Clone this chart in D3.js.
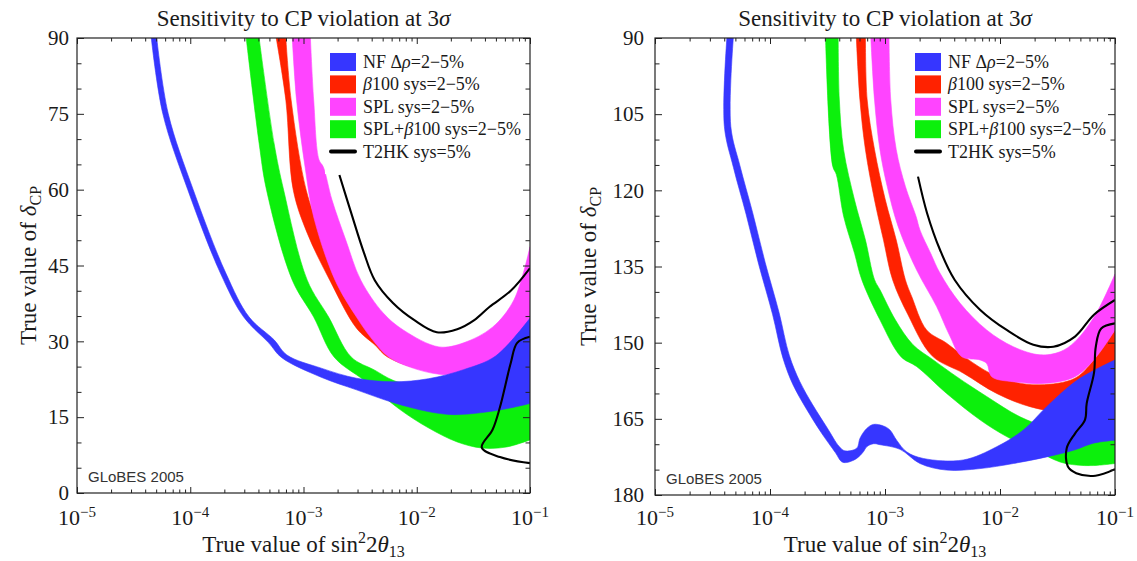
<!DOCTYPE html>
<html>
<head>
<meta charset="utf-8">
<script src="https://cdn.jsdelivr.net/npm/d3@7"></script>
<style>
  body { margin: 0; background: #fff; }
  svg { display: block; }
</style>
</head>
<body>
<svg id="chart" width="1137" height="561"></svg>
<script>
// every point is [log10 of true sin^2 2theta13, true delta_CP in degrees]
// each band is given by its two edges

// left panel, delta_CP from 0 to 90
const leftNFOuter = [[-4.344, 90], [-4.242, 75], [-4.022, 60], [-3.734, 43.5], [-3.528, 34.8], [-3.307, 29.7], [-3.194, 26.8], [-2.844, 22.9], [-2.532, 20.4], [-2.21, 17.9], [-1.898, 16.1], [-1.681, 15.5], [-1.426, 15.9], [-1.2, 16.7], [-1, 17.7]];
const leftNFInner = [[-4.296, 90], [-4.194, 75], [-3.974, 60], [-3.686, 43.5], [-3.48, 34.8], [-3.26, 30.3], [-3.147, 27.3], [-2.844, 24.7], [-2.532, 22.7], [-2.21, 22.0], [-1.898, 22.6], [-1.586, 24.4], [-1.303, 27.1], [-1, 34.6]];
const leftB100Outer = [[-3.241, 90], [-3.156, 77.7], [-3.09, 59.9], [-2.967, 51.4], [-2.768, 42.1], [-2.532, 32.6], [-2.371, 29.3], [-2.258, 26.9], [-1.898, 24.3], [-1.426, 25.3], [-1, 33.2]];
const leftB100Inner = [[-3.156, 90], [-3.109, 77.7], [-2.976, 59.9], [-2.844, 51.4], [-2.655, 42.1], [-2.418, 32.6], [-2.182, 29.3], [-1.993, 26.9], [-1.709, 26.3], [-1, 34.2]];
const leftSPLOuter = [[-3.099, 90], [-3.061, 77.7], [-2.986, 64.5], [-2.91, 54.6], [-2.721, 42.1], [-2.532, 34.8], [-2.39, 30.3], [-2.248, 26.9], [-2.059, 24.9], [-1.804, 23.5], [-1.586, 23.7], [-1.303, 26.3], [-1.113, 30.9], [-1, 34.6]];
const leftSPLInner = [[-2.939, 90], [-2.91, 77.7], [-2.863, 65.9], [-2.825, 64.5], [-2.749, 58.0], [-2.626, 50.0], [-2.494, 42.1], [-2.296, 35.6], [-2.116, 32.2], [-1.804, 28.9], [-1.586, 29.7], [-1.331, 32.8], [-1.142, 38.2], [-1, 48.7]];
const leftComboOuter = [[-3.506, 90], [-3.392, 69.2], [-3.326, 59.9], [-3.099, 42.1], [-2.91, 34.8], [-2.73, 26.9], [-2.466, 22.3], [-2.154, 16.6], [-1.898, 12.9], [-1.643, 10.1], [-1.426, 8.9], [-1.208, 9.1], [-1, 10.5]];
const leftComboInner = [[-3.392, 90], [-3.26, 69.2], [-3.175, 59.9], [-2.967, 42.1], [-2.778, 34.8], [-2.579, 26.9], [-2.371, 24.3], [-2.21, 22.3], [-1.898, 20.4], [-1.586, 19.0], [-1, 18.4]];
const leftT2HKUpper = [[-2.683, 62.9], [-2.579, 55.4], [-2.466, 47.5], [-2.371, 42.1], [-2.21, 37.6], [-2.021, 34.2], [-1.823, 31.8], [-1.643, 32.4], [-1.492, 34.2], [-1.359, 36.8], [-1.17, 40.0], [-1, 44.5]];
const leftT2HKLower = [[-1, 30.9], [-1.113, 29.7], [-1.17, 25.7], [-1.265, 17.0], [-1.331, 12.5], [-1.426, 9.0], [-1.265, 7.1], [-1, 5.9]];

// right panel, delta_CP from 90 to 180
const rightNFOuter = [[-4.375, 90], [-4.397, 107.4], [-4.318, 115.5], [-4.208, 124.7], [-4.098, 134.6], [-3.978, 144.4], [-3.888, 153.0], [-3.80, 158.3], [-3.69, 162.8], [-3.558, 167.6], [-3.43, 171.7], [-3.377, 173.45], [-3.333, 173.6], [-3.246, 172.8], [-3.188, 171.5], [-3.159, 170.5], [-3.1, 169.9], [-3.043, 170.1], [-2.87, 171.0], [-2.696, 173.8], [-2.464, 175.1], [-2.174, 174.8], [-1.884, 173.8], [-1.594, 172.5], [-1.348, 171.1], [-1.189, 169.8], [-1, 169.2]];
const rightNFInner = [[-4.319, 90], [-4.341, 107.4], [-4.262, 115.1], [-4.152, 124.3], [-4.042, 134.2], [-3.922, 144.0], [-3.832, 152.5], [-3.74, 157.7], [-3.63, 162.2], [-3.502, 166.8], [-3.4, 170.4], [-3.35, 171.3], [-3.246, 170.8], [-3.217, 168.8], [-3.159, 166.9], [-3.101, 166.1], [-3.014, 166.4], [-2.957, 167.2], [-2.899, 169.2], [-2.812, 171.5], [-2.667, 172.8], [-2.319, 173.1], [-2.029, 170.5], [-1.797, 167.2], [-1.594, 162.6], [-1.348, 157.7], [-1.17, 155.3], [-1, 153.4]];
const rightB100Outer = [[-3.249, 90], [-3.218, 102.2], [-3.17, 112.0], [-3.091, 121.9], [-3.013, 129.8], [-2.934, 137.6], [-2.8, 144.5], [-2.59, 152.6], [-2.319, 156.0], [-2.029, 160.0], [-1.739, 162.6], [-1.507, 163.3], [-1.348, 161.3], [-1.17, 158.5], [-1, 154.5]];
const rightB100Inner = [[-3.17, 90], [-3.155, 102.2], [-3.091, 112.0], [-2.997, 121.9], [-2.902, 129.8], [-2.823, 137.6], [-2.768, 140.9], [-2.638, 147.5], [-2.464, 150.1], [-2.29, 153.1], [-2.087, 156.0], [-1.884, 157.7], [-1.652, 158.3], [-1.348, 157.0], [-1.17, 153.0], [-1, 147.5]];
const rightSPLOuter = [[-3.123, 90], [-3.091, 102.2], [-3.044, 112.0], [-2.981, 119.2], [-2.886, 127.1], [-2.725, 135.7], [-2.551, 142.9], [-2.44, 148.5], [-2.333, 152.75], [-2.174, 153.4], [-2.116, 154.1], [-2.072, 156.7], [-1.884, 157.7], [-1.594, 158.0], [-1.348, 156.7], [-1.17, 153.0], [-1, 147.5]];
const rightSPLInner = [[-2.965, 90], [-2.95, 102.2], [-2.902, 112.0], [-2.823, 119.2], [-2.729, 125.2], [-2.696, 127.8], [-2.603, 132.4], [-2.522, 136.3], [-2.348, 142.2], [-2.116, 147.5], [-1.884, 150.8], [-1.652, 152.4], [-1.478, 151.8], [-1.348, 149.8], [-1.17, 144.5], [-1, 136.5]];
const rightComboOuter = [[-3.517, 90], [-3.454, 115.3], [-3.423, 116.9], [-3.36, 125.1], [-3.265, 132.4], [-3.202, 137.6], [-3.044, 145.5], [-2.86, 152.8], [-2.725, 154.7], [-2.464, 160.0], [-2.174, 165.2], [-1.942, 168.5], [-1.71, 171.0], [-1.478, 173.5], [-1.334, 174.1], [-1.189, 174.2], [-1, 173.8]];
const rightComboInner = [[-3.407, 90], [-3.397, 102.2], [-3.36, 112.0], [-3.265, 121.9], [-3.17, 129.8], [-3.091, 137.6], [-3.0435, 139.6], [-2.91, 145.5], [-2.757, 150.4], [-2.58, 153.4], [-2.377, 156.7], [-2.116, 160.6], [-1.826, 164.6], [-1.594, 166.5], [-1.3, 167.0], [-1, 166.5]];
const rightT2HKUpper = [[-2.713, 117.3], [-2.634, 124.5], [-2.522, 131.7], [-2.395, 137.6], [-2.174, 143.5], [-1.942, 147.5], [-1.71, 150.4], [-1.536, 150.8], [-1.348, 148.8], [-1.183, 144.5], [-1, 141.6]];
const rightT2HKLower = [[-1, 146.2], [-1.12, 147.2], [-1.167, 150.8], [-1.183, 156.0], [-1.246, 161.95], [-1.261, 165.2], [-1.348, 167.9], [-1.42, 170.8], [-1.41, 174.4], [-1.337, 175.7], [-1.17, 176.2], [-1, 174.9]];

const xTickExponents = [-5, -4, -3, -2, -1];
const leftYTicks = [0, 15, 30, 45, 60, 75, 90];
const rightYTicks = [90, 105, 120, 135, 150, 165, 180];

const seriesColors = ["#3636ff", "#ff2200", "#ff44ff", "#0cf00c", "#000000"];
const legendLabels = [
  [["NF Δ", false], ["ρ", true], ["=2−5%", false]],
  [["β", true], ["100 sys=2−5%", false]],
  [["SPL sys=2−5%", false]],
  [["SPL+", false], ["β", true], ["100 sys=2−5%", false]],
  [["T2HK sys=5%", false]]
];

const SERIF = "'Liberation Serif', 'Times New Roman', serif";
const svg = d3.select("#chart");

const panels = [
  {
    id: "left", x0: 77, x1: 530, y0: 38, y1: 493, yDomain: [0, 90], yTicks: leftYTicks,
    labelPad: 8, titleX: 36,
    bands: [
      [leftComboOuter, leftComboInner, 3],
      [leftB100Outer, leftB100Inner, 1],
      [leftSPLOuter, leftSPLInner, 2],
      [leftNFOuter, leftNFInner, 0]
    ],
    lines: [leftT2HKUpper, leftT2HKLower]
  },
  {
    id: "right", x0: 655, x1: 1115, y0: 38, y1: 495, yDomain: [90, 180], yTicks: rightYTicks,
    labelPad: 11, titleX: 596,
    bands: [
      [rightComboOuter, rightComboInner, 3],
      [rightB100Outer, rightB100Inner, 1],
      [rightSPLOuter, rightSPLInner, 2],
      [rightNFOuter, rightNFInner, 0]
    ],
    lines: [rightT2HKUpper, rightT2HKLower]
  }
];

const getPanelScales = p => {
  const xScale = d3.scaleLog().domain([1e-5, 1e-1]).range([p.x0, p.x1]);
  const yScale = d3.scaleLinear().domain(p.yDomain).range(
    p.id === "left" ? [p.y1, p.y0] : [p.y0, p.y1]
  );
  return { xScale, yScale };
};

const drawBands = (p, scales) => {
  const { xScale, yScale } = scales;
  svg.append("clipPath").attr("id", `clip-${p.id}`)
    .append("rect")
    .attr("x", p.x0).attr("y", p.y0)
    .attr("width", p.x1 - p.x0).attr("height", p.y1 - p.y0);

  const edge = d3.line()
    .x(d => xScale(Math.pow(10, d[0])))
    .y(d => yScale(d[1]))
    .curve(d3.curveCatmullRom.alpha(0.5));
  const bandPath = (outer, inner) =>
    edge(outer) + edge(inner.slice().reverse()).replace("M", "L") + "Z";

  const plot = svg.append("g").attr("clip-path", `url(#clip-${p.id})`);
  plot.selectAll("path.band")
    .data(p.bands)
    .join("path")
    .attr("class", "band")
    .attr("d", d => bandPath(d[0], d[1]))
    .attr("fill", d => seriesColors[d[2]])
    .attr("stroke", d => seriesColors[d[2]])
    .attr("stroke-width", 0.6);

  plot.selectAll("path.t2hk")
    .data(p.lines)
    .join("path")
    .attr("class", "t2hk")
    .attr("d", d => edge(d))
    .attr("fill", "none")
    .attr("stroke", "#000")
    .attr("stroke-width", 2.1)
    .attr("stroke-linejoin", "round");
};

const drawAxes = (p, scales) => {
  const { xScale, yScale } = scales;
  const majorX = xTickExponents.map(e => Math.pow(10, e));
  const minorX = [];
  xTickExponents.slice(0, -1).forEach(e => {
    for (let k = 2; k <= 9; k++) minorX.push(k * Math.pow(10, e));
  });
  const minorY = d3.range(p.yDomain[0], p.yDomain[1] + 1, 5).filter(v => v % 15 !== 0);

  const addTicks = (axis, transform) => {
    svg.append("g")
      .attr("transform", transform)
      .attr("color", "#222")
      .call(axis)
      .call(g => g.select(".domain").remove())
      .call(g => g.selectAll(".tick line").attr("stroke-width", 1));
  };

  addTicks(d3.axisBottom(xScale).tickValues(majorX).tickSize(-6).tickFormat(""), `translate(0,${p.y1})`);
  addTicks(d3.axisBottom(xScale).tickValues(minorX).tickSize(-3.5).tickFormat(""), `translate(0,${p.y1})`);
  addTicks(d3.axisTop(xScale).tickValues(majorX).tickSize(-6).tickFormat(""), `translate(0,${p.y0})`);
  addTicks(d3.axisTop(xScale).tickValues(minorX).tickSize(-3.5).tickFormat(""), `translate(0,${p.y0})`);
  addTicks(d3.axisRight(yScale).tickValues(p.yTicks).tickSize(-7).tickFormat(""), `translate(${p.x1},0)`);
  addTicks(d3.axisRight(yScale).tickValues(minorY).tickSize(-4.5).tickFormat(""), `translate(${p.x1},0)`);
  addTicks(d3.axisLeft(yScale).tickValues(minorY).tickSize(-4.5).tickFormat(""), `translate(${p.x0},0)`);

  // left axis with its numbers
  svg.append("g")
    .attr("transform", `translate(${p.x0},0)`)
    .attr("color", "#222")
    .call(d3.axisLeft(yScale).tickValues(p.yTicks).tickSize(-7).tickPadding(p.labelPad).tickFormat(d3.format("d")))
    .call(g => g.select(".domain").remove())
    .call(g => g.selectAll("text")
      .attr("font-family", SERIF)
      .attr("font-size", 21)
      .attr("fill", "#1a1a1a"));

  // frame
  svg.append("rect")
    .attr("x", p.x0).attr("y", p.y0)
    .attr("width", p.x1 - p.x0).attr("height", p.y1 - p.y0)
    .attr("fill", "none")
    .attr("stroke", "#222")
    .attr("stroke-width", 1.2);

  // x tick labels 10^n
  const xl = svg.append("g")
    .attr("font-family", SERIF)
    .attr("fill", "#1a1a1a")
    .selectAll("text")
    .data(xTickExponents)
    .join("text")
    .attr("x", d => xScale(Math.pow(10, d)))
    .attr("y", 525)
    .attr("text-anchor", "middle")
    .attr("font-size", 22);
  xl.append("tspan").text("10");
  xl.append("tspan").attr("dy", -8).attr("font-size", 15).text(d => `−${-d}`);
};

const addLabels = (p) => {
  const cx = (p.x0 + p.x1) / 2;
  const cy = (p.y0 + p.y1) / 2;

  const title = svg.append("text")
    .attr("x", cx).attr("y", 26)
    .attr("text-anchor", "middle")
    .attr("font-family", SERIF)
    .attr("font-size", 23)
    .attr("fill", "#1a1a1a");
  title.append("tspan").text("Sensitivity to CP violation at 3");
  title.append("tspan").attr("font-style", "italic").text("σ");

  const xt = svg.append("text")
    .attr("x", cx).attr("y", 552)
    .attr("text-anchor", "middle")
    .attr("font-family", SERIF)
    .attr("font-size", 23)
    .attr("fill", "#1a1a1a");
  xt.append("tspan").text("True value of sin");
  xt.append("tspan").attr("dy", -9).attr("font-size", 16).text("2");
  xt.append("tspan").attr("dy", 9).text("2");
  xt.append("tspan").attr("font-style", "italic").text("θ");
  xt.append("tspan").attr("dy", 5).attr("font-size", 16).text("13");

  const yt = svg.append("text")
    .attr("transform", `translate(${p.titleX},${cy}) rotate(-90)`)
    .attr("text-anchor", "middle")
    .attr("font-family", SERIF)
    .attr("font-size", 23)
    .attr("fill", "#1a1a1a");
  yt.append("tspan").text("True value of ");
  yt.append("tspan").attr("font-style", "italic").text("δ");
  yt.append("tspan").attr("dy", 5).attr("font-size", 16).text("CP");

  svg.append("text")
    .attr("x", p.x0 + 11).attr("y", p.y1 - 11)
    .attr("font-family", "'Liberation Sans', Arial, sans-serif")
    .attr("font-size", 15)
    .attr("fill", "#333")
    .text("GLoBES 2005");
};

const addLegend = (p) => {
  const sx = p.x1 - 200;
  const rowY = i => p.y0 + 24 + i * 22.4;

  svg.append("rect")
    .attr("x", sx - 5).attr("y", p.y0 + 9)
    .attr("width", p.x1 - 9 - (sx - 5)).attr("height", 127)
    .attr("fill", "#fff");

  const rows = svg.append("g")
    .selectAll("g")
    .data(legendLabels)
    .join("g")
    .attr("transform", (d, i) => `translate(${sx},${rowY(i)})`);

  rows.filter((d, i) => i < 4)
    .append("rect")
    .attr("x", 0).attr("y", -9)
    .attr("width", 26).attr("height", 18)
    .attr("fill", (d, i) => seriesColors[i]);

  rows.filter((d, i) => i === 4)
    .append("line")
    .attr("x1", 1).attr("x2", 25)
    .attr("stroke", seriesColors[4])
    .attr("stroke-width", 4)
    .attr("stroke-linecap", "round");

  const texts = rows.append("text")
    .attr("x", 33).attr("y", 6)
    .attr("font-family", SERIF)
    .attr("font-size", 18)
    .attr("fill", "#1a1a1a");
  texts.selectAll("tspan")
    .data(d => d)
    .join("tspan")
    .attr("font-style", d => (d[1] ? "italic" : null))
    .text(d => d[0]);
};

panels.forEach(p => {
  const scales = getPanelScales(p);
  drawBands(p, scales);
  addLegend(p);
  drawAxes(p, scales);
  addLabels(p);
});
</script>
</body>
</html>
